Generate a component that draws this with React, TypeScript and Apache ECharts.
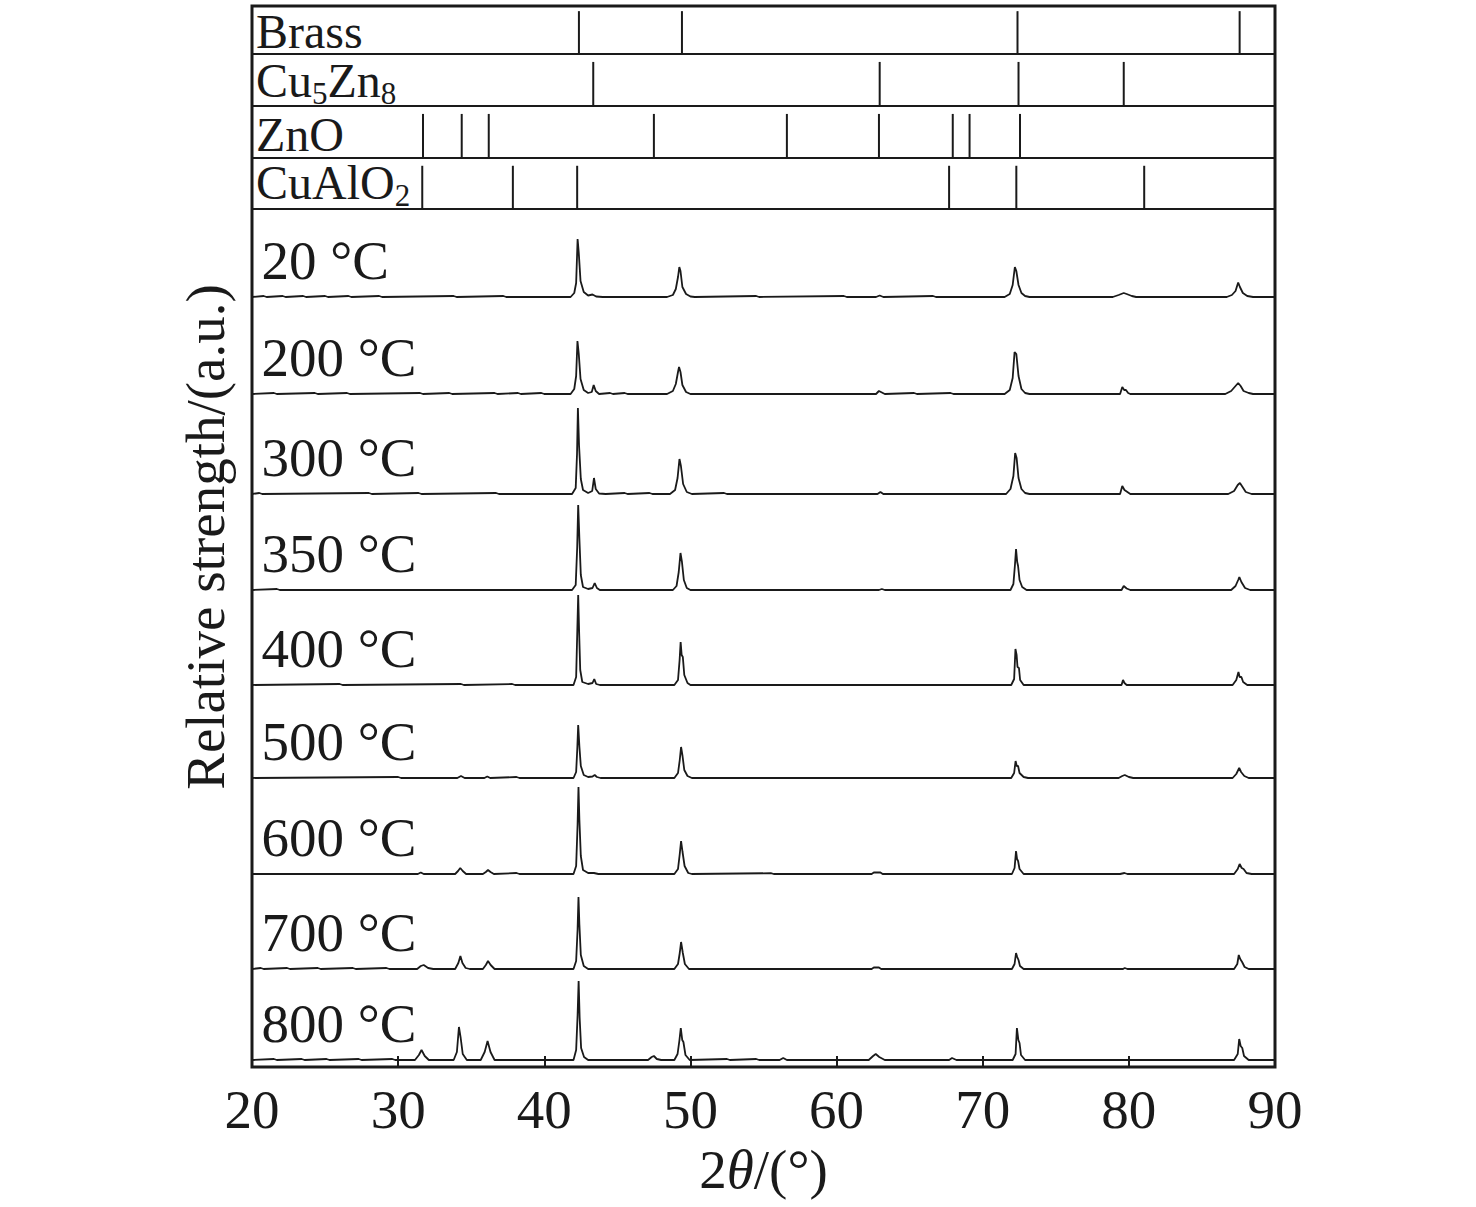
import React, { useEffect, useRef } from "react";
import * as echarts from "echarts";

const FONT = "'Liberation Serif', 'Times New Roman', serif";
const INK = "#1a1a1a";

const X_MIN = 20;
const X_MAX = 90;
const X_INTERVAL = 10;

// Reference stick patterns (2θ positions)
const BRASS_LINES = [42.37, 49.42, 72.38, 87.58];
const CU5ZN8_LINES = [43.35, 62.95, 72.45, 79.65];
const ZNO_LINES = [31.7, 34.35, 36.2, 47.5, 56.6, 62.9, 67.95, 69.1, 72.55];
const CUALO2_LINES = [31.65, 37.85, 42.25, 67.7, 72.3, 81.05];
const PHASE_LINES = [BRASS_LINES, CU5ZN8_LINES, ZNO_LINES, CUALO2_LINES];

// Annealing temperatures, top to bottom
const TEMP_LABELS = ["20 °C", "200 °C", "300 °C", "350 °C", "400 °C", "500 °C", "600 °C", "700 °C", "800 °C"];
// vertical stacking offset of each pattern (a.u.)
const TRACE_OFFSETS = [770, 673, 573, 477, 382, 289, 193, 98, 7];

const T_20 = [
  [20, 0], [20.8, 1], [21, 0], [22.1, 1], [22.3, 0], [23.5, 1], [23.7, 0], [25, 1], [25.2, 0], [26.6, 1], [26.8, 0], [28.7, 1], [28.9, 0], [33.8, 1], [34, 0], [37.2, 1], [37.4, 0],
  [41.8, 0], [42.05, 4], [42.18, 14], [42.28, 58], [42.36, 44], [42.48, 16], [42.7, 5], [43.0, 1.5], [43.3, 2.5], [43.55, 0.5], [44.0, 0],
  [48.4, 0], [48.8, 2], [49.0, 8], [49.15, 20], [49.24, 30], [49.32, 26], [49.45, 10], [49.7, 3], [50.0, 0.5], [50.3, 0],
  [54.5, 1], [54.7, 0], [60.5, 1], [60.7, 0],
  [62.7, 0], [62.95, 1.5], [63.2, 0], [66.6, 1], [66.8, 0],
  [71.5, 0], [71.85, 3], [72.05, 12], [72.2, 30], [72.3, 26], [72.45, 12], [72.65, 4], [72.9, 1], [73.2, 0],
  [78.9, 0], [79.3, 2], [79.65, 4], [79.85, 3], [80.2, 1], [80.5, 0],
  [86.7, 0], [87.05, 2], [87.3, 6], [87.48, 14.5], [87.6, 10], [87.8, 4], [88.1, 1], [88.5, 0], [90, 0],
];
const T_200 = [
  [20, 0], [21.5, 1], [21.7, 0], [24.3, 1], [24.5, 0], [26.5, 1], [26.7, 0], [31.5, 1], [31.7, 0], [33.5, 1], [33.7, 0], [36.6, 1], [36.8, 0], [38.2, 1], [38.4, 0], [39.8, 1], [40, 0],
  [41.8, 0], [42.05, 5], [42.18, 18], [42.27, 53], [42.36, 40], [42.48, 15], [42.7, 4], [43.0, 1], [43.25, 2], [43.38, 9], [43.52, 3], [43.75, 0],
  [44.5, 1], [44.7, 0], [45.5, 1], [45.7, 0],
  [48.4, 0], [48.8, 3], [49.0, 10], [49.15, 22], [49.22, 27], [49.32, 22], [49.45, 9], [49.7, 2], [50.0, 0],
  [62.7, 0], [62.9, 3], [63.1, 1.5], [63.3, 0], [65.3, 1], [65.5, 0], [67.8, 1], [68, 0],
  [71.5, 0], [71.85, 4], [72.05, 16], [72.18, 42], [72.3, 40], [72.45, 18], [72.65, 5], [72.9, 1], [73.2, 0],
  [79.4, 0], [79.55, 7], [79.68, 4], [79.8, 4], [79.95, 1], [80.1, 0],
  [86.6, 0], [87.0, 3], [87.3, 8], [87.48, 11], [87.65, 8], [87.85, 3], [88.2, 1], [88.5, 0], [90, 0],
];
const T_300 = [
  [20, 0], [20.5, 1], [20.7, 0], [28, 1], [28.2, 0], [31.4, 1], [31.6, 0], [36.7, 1], [36.9, 0],
  [41.9, 0], [42.15, 6], [42.24, 40], [42.3, 86], [42.38, 48], [42.5, 15], [42.65, 4], [43.0, 1], [43.28, 3], [43.4, 16], [43.52, 5], [43.75, 0.5], [44.2, 0],
  [45.5, 1], [45.7, 0], [47.2, 1], [47.4, 0],
  [48.6, 0], [48.95, 4], [49.12, 16], [49.25, 35], [49.35, 28], [49.5, 10], [49.75, 2], [50.1, 0],
  [52.3, 1], [52.5, 0], [62.8, 0], [63.0, 2], [63.2, 0],
  [71.6, 0], [71.9, 5], [72.1, 18], [72.22, 41], [72.32, 36], [72.45, 16], [72.65, 5], [72.9, 1], [73.2, 0],
  [79.4, 0], [79.55, 8], [79.7, 4], [79.9, 2], [80.1, 0],
  [86.8, 0], [87.2, 3], [87.45, 9], [87.6, 11], [87.78, 7], [88.0, 2], [88.4, 0], [90, 0],
];
const T_350 = [
  [20, 0], [21.7, 1], [21.9, 0],
  [41.9, 0], [42.15, 5], [42.25, 42], [42.32, 85], [42.4, 52], [42.5, 15], [42.65, 3], [43.0, 1], [43.3, 2], [43.45, 7], [43.6, 2], [43.8, 0],
  [48.8, 0], [49.05, 4], [49.2, 18], [49.32, 37], [49.42, 28], [49.55, 10], [49.75, 2], [50.0, 0],
  [62.9, 0], [63.1, 1], [63.3, 0],
  [71.9, 0], [72.1, 6], [72.2, 24], [72.28, 41], [72.36, 28], [72.42, 24], [72.52, 10], [72.7, 3], [73.0, 0],
  [79.5, 0], [79.65, 4], [79.85, 1.5], [80.1, 0],
  [87.0, 0], [87.3, 4], [87.48, 10], [87.56, 13], [87.7, 8], [87.95, 2], [88.3, 0], [90, 0],
];
const T_400 = [
  [20, 0], [26, 1], [26.2, 0], [34.3, 1], [34.5, 0], [37.8, 1], [38, 0],
  [42.0, 0], [42.18, 8], [42.26, 55], [42.32, 90], [42.38, 55], [42.46, 15], [42.6, 3], [43.0, 1], [43.3, 2], [43.42, 6], [43.55, 1], [43.8, 0],
  [48.9, 0], [49.15, 5], [49.26, 25], [49.33, 43], [49.4, 30], [49.48, 28], [49.58, 10], [49.8, 2], [50.0, 0],
  [71.95, 0], [72.15, 6], [72.24, 36], [72.32, 30], [72.38, 18], [72.48, 17], [72.56, 5], [72.8, 0],
  [79.5, 0], [79.6, 5], [79.7, 2], [79.85, 0],
  [87.1, 0], [87.35, 5], [87.5, 13], [87.58, 8], [87.7, 8], [87.82, 3], [88.1, 0], [90, 0],
];
const T_500 = [
  [20, 0], [30, 1], [30.2, 0], [34.05, 0], [34.3, 2], [34.55, 0], [35.9, 0], [36.1, 1.5], [36.3, 0], [38.1, 1], [38.3, 0],
  [42.0, 0], [42.18, 6], [42.26, 30], [42.32, 53], [42.4, 32], [42.5, 12], [42.7, 3], [43.0, 1], [43.3, 1.5], [43.45, 3], [43.6, 1], [43.85, 0],
  [48.9, 0], [49.15, 5], [49.27, 18], [49.36, 31], [49.46, 22], [49.58, 8], [49.8, 2], [50.1, 0],
  [71.95, 0], [72.15, 5], [72.25, 17], [72.33, 12], [72.42, 12], [72.52, 5], [72.8, 1], [73.1, 0],
  [79.3, 0], [79.55, 2], [79.72, 3], [80.0, 1], [80.3, 0],
  [87.1, 0], [87.35, 4], [87.55, 10], [87.68, 6], [87.9, 2], [88.2, 0], [90, 0],
];
const T_600 = [
  [20, 0], [31.35, 0], [31.55, 1.5], [31.75, 0], [33.9, 0], [34.1, 3], [34.25, 6], [34.42, 3], [34.65, 0], [35.8, 0], [36.0, 2], [36.15, 4], [36.32, 2], [36.55, 0], [38.1, 1], [38.3, 0],
  [42.0, 0], [42.18, 8], [42.28, 50], [42.34, 87], [42.4, 55], [42.5, 18], [42.65, 4], [43.0, 1], [43.4, 1], [43.7, 0],
  [48.9, 0], [49.15, 5], [49.27, 20], [49.36, 33], [49.46, 22], [49.6, 8], [49.85, 1], [50.1, 0],
  [55.5, 0.8], [55.7, 0], [62.4, 0], [62.55, 1.5], [63.0, 1.5], [63.15, 0],
  [72.0, 0], [72.18, 6], [72.28, 23], [72.35, 15], [72.42, 13], [72.52, 5], [72.8, 0],
  [79.4, 0], [79.7, 1], [79.9, 0],
  [87.2, 0], [87.45, 5], [87.58, 10], [87.72, 6], [87.85, 5], [88.05, 1], [88.4, 0], [90, 0],
];
const T_700 = [
  [20, 0], [20.6, 1], [20.8, 0], [22.4, 1], [22.6, 0], [24.5, 1], [24.7, 0], [26.9, 1], [27.1, 0], [29.2, 1], [29.4, 0],
  [31.3, 0], [31.55, 3], [31.75, 4], [32.05, 1], [32.4, 0], [33.9, 0], [34.12, 6], [34.26, 13], [34.4, 6], [34.62, 1], [34.9, 0], [35.8, 0], [36.0, 4], [36.15, 8], [36.33, 4], [36.6, 0],
  [42.0, 0], [42.18, 8], [42.28, 40], [42.34, 72], [42.4, 45], [42.5, 14], [42.7, 3], [43.0, 0],
  [48.9, 0], [49.15, 5], [49.27, 16], [49.36, 27], [49.48, 16], [49.62, 5], [49.9, 0],
  [62.4, 0], [62.55, 1.5], [62.9, 1.5], [63.05, 0],
  [72.0, 0], [72.18, 5], [72.28, 16], [72.36, 12], [72.45, 9], [72.55, 3], [72.8, 0],
  [79.6, 0], [79.72, 1], [79.9, 0],
  [87.2, 0], [87.42, 5], [87.52, 14], [87.62, 10], [87.75, 7], [87.92, 2], [88.2, 0], [90, 0],
];
const T_800 = [
  [20, 0], [21.5, 1], [21.7, 0], [23.4, 1], [23.6, 0], [25.1, 1], [25.3, 0], [27.3, 1], [27.5, 0], [29.6, 1], [29.8, 0],
  [31.15, 0], [31.42, 5], [31.6, 10], [31.82, 4], [32.1, 0], [33.8, 0], [34.02, 8], [34.16, 33], [34.28, 22], [34.42, 6], [34.7, 0], [35.65, 0], [35.92, 8], [36.12, 19], [36.32, 8], [36.6, 0],
  [42.0, 0], [42.18, 10], [42.28, 45], [42.35, 79], [42.42, 42], [42.52, 12], [42.72, 3], [43.0, 0],
  [47.1, 0], [47.35, 3], [47.5, 4], [47.7, 1], [48.0, 0],
  [48.9, 0], [49.12, 6], [49.25, 20], [49.34, 32], [49.44, 20], [49.52, 18], [49.66, 5], [49.95, 0],
  [52.5, 1], [52.7, 0], [54.5, 1], [54.7, 0], [56.1, 0], [56.35, 2], [56.6, 0],
  [62.2, 0], [62.5, 4], [62.68, 6], [62.92, 3], [63.3, 0], [67.7, 0], [67.9, 2], [68.2, 0],
  [72.05, 0], [72.25, 6], [72.34, 32], [72.44, 20], [72.52, 17], [72.62, 5], [72.9, 0],
  [87.2, 0], [87.45, 6], [87.55, 21], [87.65, 14], [87.76, 12], [87.88, 4], [88.2, 0], [90, 0],
];
const TRACES = [T_20, T_200, T_300, T_350, T_400, T_500, T_600, T_700, T_800];

// ---- layout (pixels) ----
const LEFT = 252;
const RIGHT = 201;
const PANEL_TOPS = [6, 54, 106, 158];
const PANEL_HEIGHTS = [48, 52, 52, 51];
const PANEL_YMAX = [1.12, 1.18, 1.18, 1.18];
const MAIN_TOP = 209;
const MAIN_HEIGHT = 858;
const MAIN_YMAX = 858;
const LABEL_RAISE = 37;

function buildOption() {
  const grids: any[] = [];
  const xAxes: any[] = [];
  const yAxes: any[] = [];
  const series: any[] = [];

  PANEL_TOPS.forEach((top, i) => {
    grids.push({
      left: LEFT, right: RIGHT, top, height: PANEL_HEIGHTS[i],
      show: true, borderColor: INK, borderWidth: 2, backgroundColor: "transparent",
    });
    xAxes.push({ gridIndex: i, type: "value", min: X_MIN, max: X_MAX, show: false });
    yAxes.push({ gridIndex: i, type: "value", min: 0, max: PANEL_YMAX[i], show: false });
    series.push({
      type: "bar",
      xAxisIndex: i,
      yAxisIndex: i,
      barWidth: 2,
      silent: true,
      itemStyle: { color: INK },
      data: PHASE_LINES[i].map((x) => [x, 1]),
    });
  });

  const mi = 4;
  grids.push({
    left: LEFT, right: RIGHT, top: MAIN_TOP, height: MAIN_HEIGHT,
    show: true, borderColor: INK, borderWidth: 2, backgroundColor: "transparent",
  });
  xAxes.push({
    gridIndex: mi,
    type: "value",
    min: X_MIN,
    max: X_MAX,
    interval: X_INTERVAL,
    axisLine: { show: false },
    axisTick: { show: true, inside: true, length: 11, lineStyle: { color: INK, width: 2 } },
    splitLine: { show: false },
    axisLabel: {
      show: true, showMinLabel: true, showMaxLabel: true,
      margin: 15, color: INK, fontFamily: FONT, fontSize: 55,
    },
    name: "{n|2}{i|θ}{n|/(°)}",
    nameLocation: "middle",
    nameGap: 70,
    nameTextStyle: {
      color: INK, fontFamily: FONT, fontSize: 55,
      rich: {
        n: { color: INK, fontFamily: FONT, fontSize: 55 },
        i: { color: INK, fontFamily: FONT, fontSize: 55, fontStyle: "italic" },
      },
    },
  });
  yAxes.push({ gridIndex: mi, type: "value", min: 0, max: MAIN_YMAX, show: false });

  TRACES.forEach((trace, i) => {
    series.push({
      type: "line",
      name: TEMP_LABELS[i],
      xAxisIndex: mi,
      yAxisIndex: mi,
      showSymbol: false,
      symbol: "none",
      silent: true,
      lineStyle: { color: INK, width: 1.8 },
      data: trace.map(([x, y]) => [x, TRACE_OFFSETS[i] + y]),
    });
  });

  series.push({
    type: "scatter",
    xAxisIndex: mi,
    yAxisIndex: mi,
    symbolSize: 1,
    silent: true,
    itemStyle: { color: "rgba(0,0,0,0)", opacity: 1 },
    label: {
      show: true,
      position: "right",
      distance: 9,
      formatter: "{b}",
      color: INK,
      opacity: 1,
      fontFamily: FONT,
      fontSize: 55,
    },
    data: TEMP_LABELS.map((t, i) => ({ name: t, value: [X_MIN, TRACE_OFFSETS[i] + LABEL_RAISE] })),
  });

  const txt = (text: string, x: number, y: number, size: number) => ({
    type: "text",
    x,
    y,
    z: 50,
    silent: true,
    style: {
      text, fill: INK, fontFamily: FONT, fontSize: size, lineHeight: Math.round(size * 0.8),
      align: "left", verticalAlign: "middle",
    },
  });

  const graphic: any[] = [
    txt("Brass", 256, 31.5, 48),
    txt("Cu", 256, 80, 48),
    txt("5", 312, 93, 31),
    txt("Zn", 327.5, 80, 48),
    txt("8", 380.8, 93, 31),
    txt("ZnO", 256, 134, 48),
    txt("CuAlO", 256, 182, 48),
    txt("2", 394.7, 195.5, 31),
    {
      type: "text",
      x: 205,
      y: 537,
      rotation: Math.PI / 2,
      silent: true,
      style: {
        text: "Relative strength/(a.u.)", fill: INK, fontFamily: FONT, fontSize: 55,
        align: "center", verticalAlign: "middle",
      },
    },
    {
      type: "rect",
      z: 100,
      silent: true,
      shape: { x: LEFT, y: PANEL_TOPS[0], width: 1476 - LEFT - RIGHT, height: MAIN_TOP + MAIN_HEIGHT - PANEL_TOPS[0] },
      style: { fill: "none", stroke: INK, lineWidth: 3 },
    },
  ];

  return {
    animation: false,
    backgroundColor: "#ffffff",
    grid: grids,
    xAxis: xAxes,
    yAxis: yAxes,
    series,
    graphic,
  };
}

export default function App() {
  const ref = useRef<HTMLDivElement>(null);
  useEffect(() => {
    document.body.style.margin = "0";
    const chart = echarts.init(ref.current as HTMLDivElement, null, { renderer: "svg" });
    chart.setOption(buildOption() as any);
    return () => chart.dispose();
  }, []);
  return <div ref={ref} style={{ width: 1476, height: 1207 }} />;
}
